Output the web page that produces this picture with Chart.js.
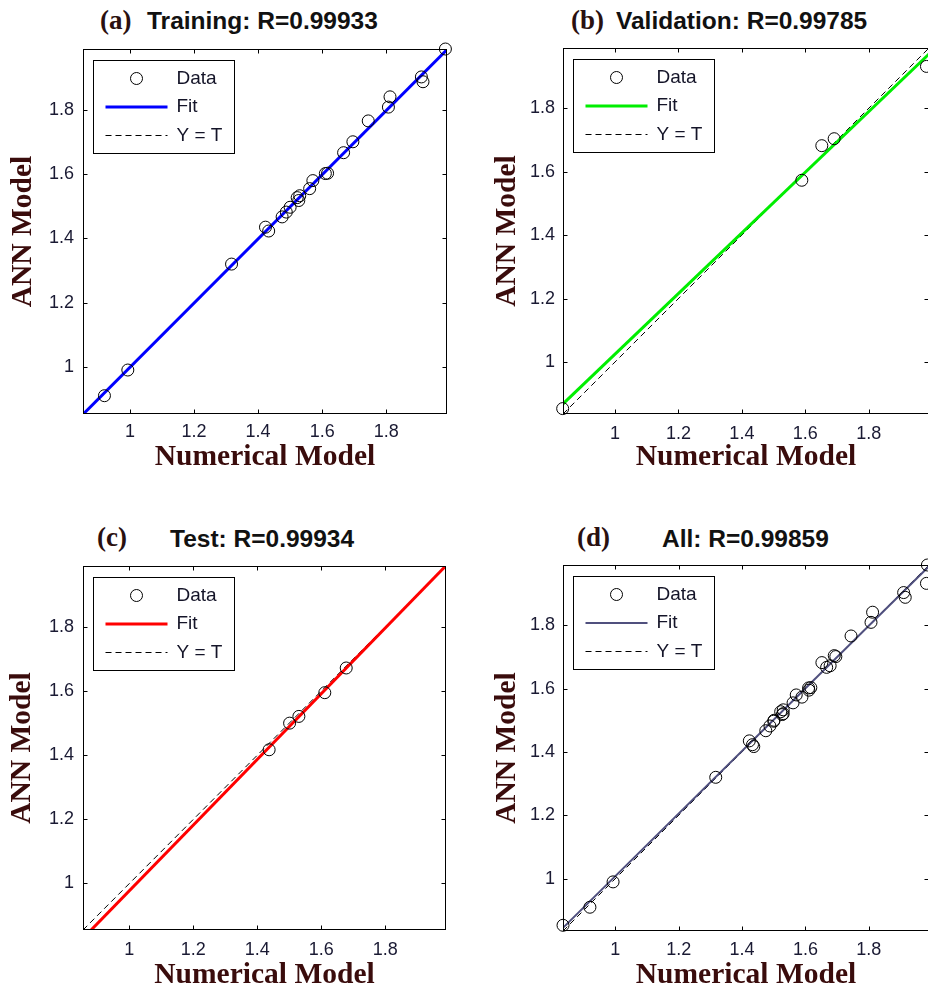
<!DOCTYPE html>
<html lang="en">
<head>
    <meta charset="UTF-8">
    <title>ANN model vs numerical model - regression</title>
    <script src="https://cdn.jsdelivr.net/npm/chart.js"></script>
    <style>
        html, body {
            margin: 0;
            width: 928px;
            height: 986px;
            overflow: hidden;
            background: #fff;
        }

        .tag {
            position: absolute;
            font: bold 27px/1 "Liberation Serif", "Times New Roman", serif;
            color: #2a1010;
            white-space: nowrap;
        }

        .head {
            position: absolute;
            font: bold 24.5px/1 "Liberation Sans", Arial, sans-serif;
            color: #111;
            white-space: nowrap;
        }
    </style>
</head>
<body>
    <script>
        // values (target = numerical, output = ANN)
        const trainTarget = [0.920, 0.993, 1.317, 1.423, 1.433, 1.475, 1.488, 1.500, 1.522, 1.530, 1.527, 1.561,
            1.571, 1.610, 1.617, 1.667, 1.696, 1.744, 1.807, 1.812, 1.910, 1.915, 1.985];
        const trainOutput = [0.910, 0.990, 1.320, 1.435, 1.423, 1.467, 1.482, 1.497, 1.527, 1.533, 1.518, 1.555,
            1.580, 1.602, 1.603, 1.667, 1.701, 1.766, 1.809, 1.841, 1.903, 1.888, 1.990];
        const valTarget = [0.835, 1.589, 1.652, 1.691, 1.982];
        const valOutput = [0.853, 1.573, 1.682, 1.704, 1.932];
        const testTarget = [1.437, 1.501, 1.530, 1.611, 1.678];
        const testOutput = [1.417, 1.500, 1.521, 1.595, 1.672];

        // "All" is every sample together
        const allTarget = [...trainTarget, ...valTarget, ...testTarget];
        const allOutput = [...trainOutput, ...valOutput, ...testOutput];

        // axis limits (same on both axes) and the fit line at those limits
        const trainLim = [0.853, 1.99];
        const valLim = [0.836, 1.99];
        const testLim = [0.855, 1.99];
        const allLim = [0.835, 1.99];
        const trainFit = [0.852, 1.988];
        const valFit = [0.868, 1.971];
        const testFit = [0.829, 1.991];
        const allFit = [0.845, 1.986];

        const tickValues = [1, 1.2, 1.4, 1.6, 1.8];
        const tickLabels = ['1', '1.2', '1.4', '1.6', '1.8'];

        const panelTags = ['(a)', '(b)', '(c)', '(d)'];
        const panelTitles = ['Training: R=0.99933', 'Validation: R=0.99785', 'Test: R=0.99934', 'All: R=0.99859'];
        const legendLabels = ['Data', 'Fit', 'Y = T'];
        const xTitle = 'Numerical Model';
        const yTitle = 'ANN Model';

        const panels = [
            {
                target: trainTarget, output: trainOutput, lim: trainLim, fit: trainFit, color: '#0000ff', fitWidth: 3,
                box: { left: 0, top: 0, w: 464, h: 486 }, pad: { left: 0, top: 49, right: 17, bottom: 10 },
                yw: 83, xh: 62, xTickPad: 7, yTickPad: 9, yTitlePad: 5.6,
                tag: [100, 7], head: [147, 9]
            },
            {
                target: valTarget, output: valOutput, lim: valLim, fit: valFit, color: '#00ee00', fitWidth: 3,
                box: { left: 464, top: 0, w: 480, h: 486 }, pad: { left: 20, top: 48, right: 15, bottom: 10 },
                yw: 79, xh: 62, xTickPad: 9, yTickPad: 8, yTitlePad: 5.6,
                tag: [571, 6.5], head: [616, 8.6]
            },
            {
                target: testTarget, output: testOutput, lim: testLim, fit: testFit, color: '#ff0000', fitWidth: 3,
                box: { left: 0, top: 500, w: 464, h: 500 }, pad: { left: 0, top: 66, right: 18, bottom: 6 },
                yw: 83, xh: 64, xTickPad: 9, yTickPad: 9, yTitlePad: 4.8,
                tag: [97, 523.5], head: [170, 526.8]
            },
            {
                target: allTarget, output: allOutput, lim: allLim, fit: allFit, color: '#50507e', fitWidth: 2,
                box: { left: 464, top: 500, w: 480, h: 500 }, pad: { left: 20, top: 65, right: 15, bottom: 6 },
                yw: 79, xh: 63, xTickPad: 8, yTickPad: 8, yTitlePad: 6.1,
                tag: [577, 523.5], head: [662, 526.8]
            }
        ];

        const tickFont = { family: '"Liberation Sans", Arial, sans-serif', size: 18 };
        const labelFont = { family: '"Liberation Serif", "Times New Roman", serif', size: 29.5, weight: 'bold', lineHeight: 1.2 };

        // box around the axes with the little inward ticks on all four sides
        const frameTicks = {
            id: 'frameTicks',
            afterDatasetsDraw(chart) {
                const { ctx, chartArea: a, scales } = chart;
                const L = Math.round(a.left) + 0.5, R = Math.round(a.right) - 0.5;
                const T = Math.round(a.top) + 0.5, B = Math.round(a.bottom) - 0.5;
                const len = 4;
                ctx.save();
                ctx.strokeStyle = '#000';
                ctx.lineWidth = 1;
                ctx.setLineDash([]);
                ctx.strokeRect(L, T, R - L, B - T);
                ctx.beginPath();
                scales.x.ticks.forEach(t => {
                    const px = Math.round(scales.x.getPixelForValue(t.value)) + 0.5;
                    ctx.moveTo(px, B); ctx.lineTo(px, B - len);
                    ctx.moveTo(px, T); ctx.lineTo(px, T + len);
                });
                scales.y.ticks.forEach(t => {
                    const py = Math.round(scales.y.getPixelForValue(t.value)) + 0.5;
                    ctx.moveTo(L, py); ctx.lineTo(L + len, py);
                    ctx.moveTo(R, py); ctx.lineTo(R - len, py);
                });
                ctx.stroke();
                ctx.restore();
            }
        };

        // matlab style legend: boxed, top-left inside the axes
        const boxedLegend = {
            id: 'boxedLegend',
            afterDraw(chart) {
                const { ctx, chartArea: a } = chart;
                const bx = Math.round(a.left + 10) + 0.5, by = Math.round(a.top + 11) + 0.5;
                const rows = [18, 46.5, 75];
                ctx.save();
                ctx.fillStyle = '#fff';
                ctx.fillRect(bx, by, 141, 93);
                ctx.strokeStyle = '#000';
                ctx.lineWidth = 1;
                ctx.strokeRect(bx, by, 141, 93);
                ctx.font = '19px "Liberation Sans", Arial, sans-serif';
                ctx.textBaseline = 'middle';
                chart.data.datasets.forEach((ds, i) => {
                    const cy = by + rows[i];
                    const x1 = bx + 12, x2 = bx + 74;
                    ctx.strokeStyle = ds.borderColor;
                    ctx.lineWidth = ds.borderWidth;
                    ctx.setLineDash(ds.borderDash || []);
                    ctx.beginPath();
                    if (ds.showLine) {
                        ctx.moveTo(x1, cy);
                        ctx.lineTo(x2, cy);
                    } else {
                        ctx.arc((x1 + x2) / 2, cy, ds.pointRadius, 0, Math.PI * 2);
                    }
                    ctx.stroke();
                    ctx.setLineDash([]);
                    ctx.fillStyle = '#141428';
                    ctx.fillText(ds.label, bx + 83, cy);
                });
                ctx.restore();
            }
        };

        panels.forEach((p, k) => {
            const tag = document.createElement('div');
            tag.className = 'tag';
            tag.style.left = p.tag[0] + 'px';
            tag.style.top = p.tag[1] + 'px';
            tag.textContent = panelTags[k];
            document.body.appendChild(tag);

            const head = document.createElement('div');
            head.className = 'head';
            head.style.left = p.head[0] + 'px';
            head.style.top = p.head[1] + 'px';
            head.textContent = panelTitles[k];
            document.body.appendChild(head);

            const canvas = document.createElement('canvas');
            canvas.width = p.box.w;
            canvas.height = p.box.h;
            canvas.style.cssText = `position:absolute;left:${p.box.left}px;top:${p.box.top}px;` +
                `width:${p.box.w}px;height:${p.box.h}px`;
            document.body.appendChild(canvas);

            const points = p.target.map((t, i) => ({ x: t, y: p.output[i] }));

            new Chart(canvas, {
                type: 'scatter',
                data: {
                    datasets: [
                        {
                            label: legendLabels[0],
                            data: points,
                            pointStyle: 'circle',
                            pointRadius: 6,
                            borderWidth: 1,
                            borderColor: '#000',
                            backgroundColor: 'rgba(0,0,0,0)',
                            clip: false
                        },
                        {
                            label: legendLabels[1],
                            data: [{ x: p.lim[0], y: p.fit[0] }, { x: p.lim[1], y: p.fit[1] }],
                            showLine: true,
                            pointRadius: 0,
                            borderColor: p.color,
                            borderWidth: p.fitWidth,
                            clip: 0
                        },
                        {
                            label: legendLabels[2],
                            data: [{ x: p.lim[0], y: p.lim[0] }, { x: p.lim[1], y: p.lim[1] }],
                            showLine: true,
                            pointRadius: 0,
                            borderColor: '#000',
                            borderWidth: 1,
                            borderDash: [6, 4],
                            clip: 0
                        }
                    ]
                },
                options: {
                    responsive: false,
                    animation: false,
                    devicePixelRatio: 1,
                    events: [],
                    layout: { padding: p.pad },
                    plugins: {
                        legend: { display: false },
                        tooltip: { enabled: false }
                    },
                    scales: {
                        x: {
                            type: 'linear',
                            min: p.lim[0],
                            max: p.lim[1],
                            afterBuildTicks: s => { s.ticks = tickValues.map(v => ({ value: v })); },
                            afterFit: s => { s.height = p.xh; },
                            grid: { display: false, drawTicks: false },
                            border: { display: false },
                            ticks: {
                                font: tickFont,
                                color: '#1a1a33',
                                padding: p.xTickPad,
                                maxRotation: 0,
                                autoSkip: false,
                                callback: v => tickLabels[tickValues.indexOf(v)]
                            },
                            title: {
                                display: true,
                                text: xTitle,
                                font: labelFont,
                                color: '#3a0c0c',
                                padding: { top: 0, bottom: 1.3 }
                            }
                        },
                        y: {
                            type: 'linear',
                            min: p.lim[0],
                            max: p.lim[1],
                            afterBuildTicks: s => { s.ticks = tickValues.map(v => ({ value: v })); },
                            afterFit: s => { s.width = p.yw; },
                            grid: { display: false, drawTicks: false },
                            border: { display: false },
                            ticks: {
                                font: tickFont,
                                color: '#1a1a33',
                                padding: p.yTickPad,
                                autoSkip: false,
                                callback: v => tickLabels[tickValues.indexOf(v)]
                            },
                            title: {
                                display: true,
                                text: yTitle,
                                font: labelFont,
                                color: '#3a0c0c',
                                padding: { top: p.yTitlePad, bottom: 0 }
                            }
                        }
                    }
                },
                plugins: [frameTicks, boxedLegend]
            });
        });
    </script>
</body>
</html>
